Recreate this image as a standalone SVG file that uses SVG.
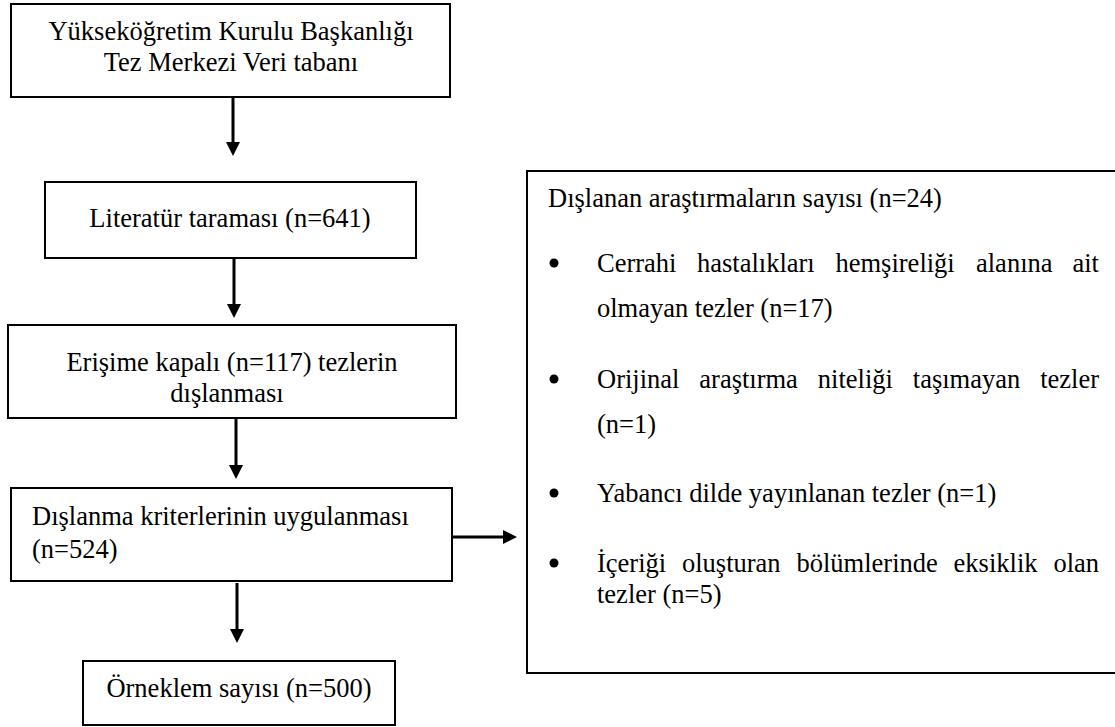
<svg xmlns="http://www.w3.org/2000/svg" width="1115" height="727" viewBox="0 0 1115 727">
<style>
.box{fill:#fff;stroke:#000;stroke-width:2}
.t{font-family:"Liberation Serif","Times New Roman",serif;font-size:26.5px;fill:#000}
.c{text-anchor:middle}
.arr{stroke:#000;stroke-width:3;fill:none;marker-end:url(#ah)}
.dot{fill:#000}
</style>
<defs>
<marker id="ah" viewBox="0 0 14 14" refX="0" refY="7" markerWidth="14" markerHeight="14" markerUnits="userSpaceOnUse" orient="auto">
<path d="M0,0 L14,7 L0,14 z" fill="#000"/>
</marker>
</defs>
<rect width="1115" height="727" fill="#fff"/>
<g id="connectors">
<line class="arr" x1="233" y1="98" x2="233" y2="142"/>
<line class="arr" x1="234" y1="259" x2="234" y2="304"/>
<line class="arr" x1="236" y1="419" x2="236" y2="465"/>
<line class="arr" x1="453" y1="537" x2="503" y2="537"/>
<line class="arr" x1="237" y1="583" x2="237" y2="629"/>
</g>
<g id="n1">
<rect class="box" x="11" y="4" width="439" height="93"/>
<text class="t c" x="231" y="40">Yükseköğretim Kurulu Başkanlığı</text>
<text class="t c" x="231" y="71">Tez Merkezi Veri tabanı</text>
</g>
<g id="n2">
<rect class="box" x="45" y="182" width="371" height="76"/>
<text class="t c" x="230" y="227">Literatür taraması (n=641)</text>
</g>
<g id="n3">
<rect class="box" x="8" y="325" width="448" height="93"/>
<text class="t c" x="232" y="371">Erişime kapalı (n=117) tezlerin</text>
<text class="t c" x="227" y="402">dışlanması</text>
</g>
<g id="n4">
<rect class="box" x="11" y="488" width="441" height="93"/>
<text class="t" x="32" y="525">Dışlanma kriterlerinin uygulanması</text>
<text class="t" x="32" y="558">(n=524)</text>
</g>
<g id="n5">
<rect class="box" x="83" y="661" width="312" height="64"/>
<text class="t c" x="239" y="697">Örneklem sayısı (n=500)</text>
</g>
<g id="n6">
<rect class="box" x="527" y="171" width="600" height="502"/>
<text class="t" x="548" y="207">Dışlanan araştırmaların sayısı (n=24)</text>
<circle class="dot" cx="554" cy="263" r="4.5"/>
<text class="t" y="272"><tspan x="597">Cerrahi</tspan><tspan x="697">hastalıkları</tspan><tspan x="835.5">hemşireliği</tspan><tspan x="976">alanına</tspan><tspan x="1072.5">ait</tspan></text>
<text class="t" x="597" y="317">olmayan tezler (n=17)</text>
<circle class="dot" cx="554" cy="379" r="4.5"/>
<text class="t" y="388"><tspan x="597">Orijinal</tspan><tspan x="699.3">araştırma</tspan><tspan x="817.8">niteliği</tspan><tspan x="912.8">taşımayan</tspan><tspan x="1040.2">tezler</tspan></text>
<text class="t" x="597" y="433">(n=1)</text>
<circle class="dot" cx="554" cy="493" r="4.5"/>
<text class="t" x="597" y="502">Yabancı dilde yayınlanan tezler (n=1)</text>
<circle class="dot" cx="554" cy="563" r="4.5"/>
<text class="t" y="572"><tspan x="597">İçeriği</tspan><tspan x="682">oluşturan</tspan><tspan x="796.5">bölümlerinde</tspan><tspan x="953.6">eksiklik</tspan><tspan x="1053.4">olan</tspan></text>
<text class="t" x="597" y="603">tezler (n=5)</text>
</g>
</svg>
